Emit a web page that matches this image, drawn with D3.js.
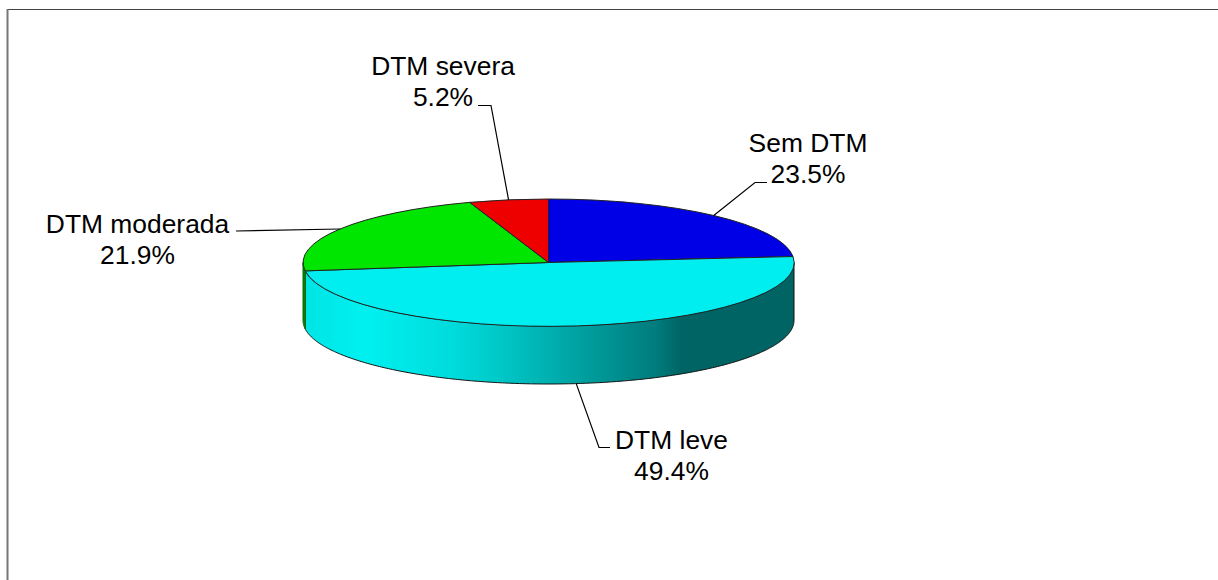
<!DOCTYPE html>
<html>
<head>
<meta charset="utf-8">
<script src="https://cdn.jsdelivr.net/npm/d3@7"></script>
<style>
  html, body { margin: 0; padding: 0; background: #fff; overflow: hidden; }
  text { font-family: "Liberation Sans", Arial, sans-serif; font-size: 26.4px; fill: #000; }
</style>
</head>
<body>
<div id="chart"></div>
<script>
const categories = ["Sem DTM", "DTM leve", "DTM moderada", "DTM severa"];
const percents = [23.5, 49.4, 21.9, 5.2];
const topColors = ["#0000e6", "#00eef0", "#00e600", "#ee0000"];

const width = 1218;
const height = 580;
const cx = 548.5, cy = 262.5, rx = 245.5, ry = 63.5, depth = 58;

// where each label goes, in the same order as categories
const labelLayout = [
  { x: 808, y: 152, elbow: [755, 182.5], end: [767, 182.5] },
  { x: 671.5, y: 448.5, elbow: [599, 447.5], end: [610, 447.5] },
  { x: 137.5, y: 232.5, elbow: null, end: [236, 231] },
  { x: 443, y: 75, elbow: [491, 105.5], end: [478, 105.5] }
];

const svg = d3.select("#chart").append("svg")
  .attr("width", width)
  .attr("height", height);

const defs = svg.append("defs");

function addGradient(id, stops) {
  const g = defs.append("linearGradient")
    .attr("id", id)
    .attr("gradientUnits", "userSpaceOnUse")
    .attr("x1", cx - rx).attr("x2", cx + rx)
    .attr("y1", 0).attr("y2", 0);
  stops.forEach(s => g.append("stop").attr("offset", s[0]).attr("stop-color", s[1]));
}

addGradient("sideCyan", [
  [0, "#00e4e4"], [0.13, "#00f0f0"], [0.3, "#00dcdc"], [0.4, "#00c8c8"], [0.5, "#00b0b0"],
  [0.65, "#008c8c"], [0.72, "#007c7c"], [0.77, "#006464"], [1, "#006464"]
]);
addGradient("sideGreen", [[0, "#009000"], [0.03, "#00a800"]]);

// frame, only top and left show up in the picture
svg.append("line").attr("x1", 7).attr("x2", width).attr("y1", 9.5).attr("y2", 9.5)
  .attr("stroke", "#444").attr("stroke-width", 1);
svg.append("line").attr("x1", 7.5).attr("x2", 7.5).attr("y1", 9).attr("y2", height)
  .attr("stroke", "#777").attr("stroke-width", 2);

const pie = d3.pie().sort(null).value(d => d);
const arcs = pie(percents);

const arc = d3.arc().innerRadius(0).outerRadius(1);
const fmt = d3.format(".1f");

const px = a => cx + rx * Math.sin(a);
const py = a => cy - ry * Math.cos(a);

// side wall of a slice, only the part facing the viewer (90deg to 270deg)
function sidePath(a0, a1) {
  const from = Math.max(a0, Math.PI / 2);
  const to = Math.min(a1, 3 * Math.PI / 2);
  if (to <= from) return null;
  const angles = d3.range(from, to, 0.01).concat([to]);
  const line = d3.line().x(a => px(a));
  const front = line.y(a => py(a))(angles);
  const back = line.y(a => py(a) + depth)(angles.slice().reverse());
  return front + "L" + back.slice(1) + "Z";
}

const sideFills = { 1: "url(#sideCyan)", 2: "url(#sideGreen)" };
const sideStrokes = { 1: "#111", 2: "#006a00" };

svg.append("g").selectAll("path")
  .data(arcs.filter(d => sidePath(d.startAngle, d.endAngle)))
  .join("path")
  .attr("d", d => sidePath(d.startAngle, d.endAngle))
  .attr("fill", d => sideFills[d.index])
  .attr("stroke", d => sideStrokes[d.index])
  .attr("stroke-width", 1)
  .attr("stroke-linejoin", "round");

svg.append("g")
  .attr("transform", `translate(${cx},${cy}) scale(${rx},${ry})`)
  .selectAll("path")
  .data(arcs)
  .join("path")
  .attr("d", arc)
  .attr("fill", d => topColors[d.index])
  .attr("stroke", "#222")
  .attr("stroke-width", 1)
  .attr("vector-effect", "non-scaling-stroke");

// leader lines start at the middle of each slice edge
const leaders = svg.append("g");
arcs.forEach(d => {
  const mid = (d.startAngle + d.endAngle) / 2;
  const front = mid > Math.PI / 2 && mid < 3 * Math.PI / 2;
  const start = [px(mid), py(mid) + (front ? depth : 0)];
  const lay = labelLayout[d.index];
  const pts = [start];
  if (lay.elbow) pts.push(lay.elbow);
  pts.push(lay.end);
  leaders.append("path")
    .attr("d", d3.line()(pts))
    .attr("fill", "none")
    .attr("stroke", "#000")
    .attr("stroke-width", 1.2);
});

const labels = svg.append("g");
arcs.forEach(d => {
  const lay = labelLayout[d.index];
  labels.append("text")
    .attr("x", lay.x).attr("y", lay.y)
    .attr("text-anchor", "middle")
    .text(categories[d.index]);
  labels.append("text")
    .attr("x", lay.x).attr("y", lay.y + 31)
    .attr("text-anchor", "middle")
    .text(fmt(percents[d.index]) + "%");
});
</script>
</body>
</html>
